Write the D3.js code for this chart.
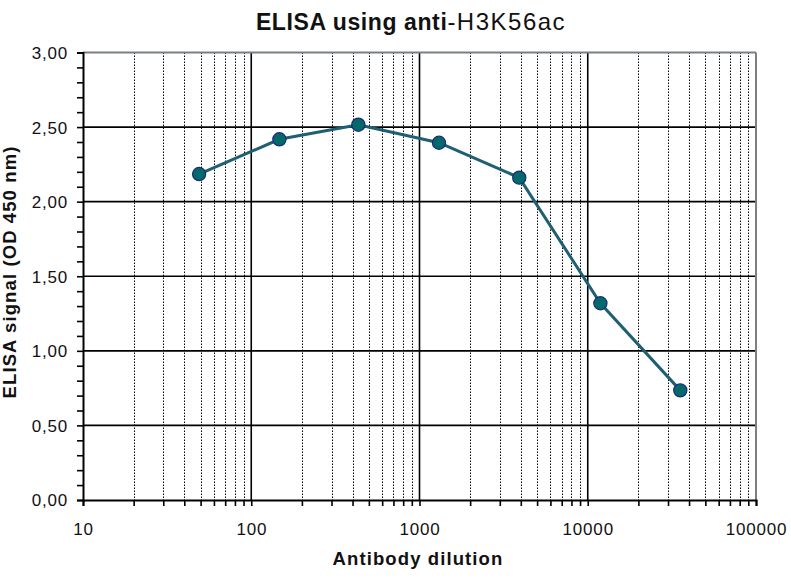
<!DOCTYPE html>
<html><head><meta charset="utf-8">
<script src="https://cdn.jsdelivr.net/npm/d3@7"></script>
<style>body{margin:0;background:#fff}svg{display:block}</style>
</head><body>
<svg id="c" width="791" height="587"></svg>
<script>
const dilutions = [49, 147, 433, 1306, 3917, 11890, 35480];
const signals = [2.185, 2.418, 2.516, 2.395, 2.161, 1.319, 0.735];
const xTickValues = [10, 100, 1000, 10000, 100000];
const yTickValues = [0, 0.5, 1, 1.5, 2, 2.5, 3];
const titleMain = "ELISA using anti";
const titleTarget = "-H3K56ac";
const xLabel = "Antibody dilution";
const yLabel = "ELISA signal (OD 450 nm)";

const svg = d3.select("#c");
const L = 83, R = 756, T = 52.5, B = 500;
const x = d3.scaleLog().domain([10, 100000]).range([L, R]);
const y = d3.scaleLinear().domain([0, 3]).range([B, T]);
const font = "Arial, 'Liberation Sans', sans-serif";

// minor vertical gridlines
const minors = [];
for (let d = 10; d < 100000; d *= 10) for (let k = 2; k <= 9; k++) minors.push(d * k);
svg.append("g").selectAll("line").data(minors).join("line")
  .attr("x1", d => Math.round(x(d)) + 0.5).attr("x2", d => Math.round(x(d)) + 0.5)
  .attr("y1", T).attr("y2", B)
  .attr("stroke", "#000").attr("stroke-width", 1).attr("stroke-dasharray", "1.5,1.5");
// major vertical gridlines
svg.append("g").selectAll("line").data(xTickValues.slice(1, -1)).join("line")
  .attr("x1", d => x(d)).attr("x2", d => x(d)).attr("y1", T).attr("y2", B)
  .attr("stroke", "#000").attr("stroke-width", 1.6);
// horizontal gridlines
svg.append("g").selectAll("line").data(yTickValues.slice(1, -1)).join("line")
  .attr("x1", L).attr("x2", R).attr("y1", d => y(d)).attr("y2", d => y(d))
  .attr("stroke", "#000").attr("stroke-width", 1.6);
// top/right border
svg.append("line").attr("x1", L).attr("x2", R).attr("y1", T).attr("y2", T).attr("stroke", "#7a8084").attr("stroke-width", 2);
svg.append("line").attr("x1", R).attr("x2", R).attr("y1", T).attr("y2", B).attr("stroke", "#7a8084").attr("stroke-width", 2);

// Y axis
const yMinor = d3.range(0, 31).map(i => i / 10);
const yAxis = d3.axisLeft(y).tickValues(yMinor).tickSize(6).tickPadding(9)
  .tickFormat(d => yTickValues.some(v => Math.abs(v - d) < 1e-9) ? d3.format(".2f")(d).replace(".", ",") : "");
const gy = svg.append("g").attr("transform", `translate(${L},0)`).call(yAxis);
gy.select(".domain").attr("stroke", "#000").attr("stroke-width", 2);
gy.selectAll(".tick line").attr("stroke", "#000").attr("stroke-width", 1.6);
gy.selectAll(".tick text").attr("font-family", font).attr("font-size", 17).attr("fill", "#111")
  .attr("letter-spacing", "0.8px").attr("dy", "0.35em");

// X axis
const xAll = minors.concat(xTickValues);
const xAxis = d3.axisBottom(x).tickValues(xAll).tickSize(6).tickPadding(17)
  .tickFormat(d => xTickValues.includes(d) ? String(d) : "");
const gx = svg.append("g").attr("transform", `translate(0,${B})`).call(xAxis);
gx.select(".domain").attr("stroke", "#000").attr("stroke-width", 2);
gx.selectAll(".tick line").attr("stroke", "#000").attr("stroke-width", 1.6);
gx.selectAll(".tick text").attr("font-family", font).attr("font-size", 17).attr("fill", "#111")
  .attr("letter-spacing", "0.8px");

// line and points
const line = d3.line().x(d => x(d[0])).y(d => y(d[1]));
const pts = dilutions.map((d, i) => [d, signals[i]]);
svg.append("path").datum(pts).attr("d", line).attr("fill", "none")
  .attr("stroke", "#1e5f74").attr("stroke-width", 3);
svg.append("g").selectAll("circle").data(pts).join("circle")
  .attr("cx", d => x(d[0])).attr("cy", d => y(d[1])).attr("r", 6.6)
  .attr("fill", "#04696b").attr("stroke", "#1c2a78").attr("stroke-width", 1.2);

// title
const t = svg.append("text").attr("x", 411).attr("y", 30).attr("text-anchor", "middle")
  .attr("font-family", font).attr("fill", "#111");
t.append("tspan").attr("font-size", 23).attr("font-weight", "bold").attr("letter-spacing", "0.6px").text(titleMain);
t.append("tspan").attr("font-size", 24).attr("font-weight", "normal").attr("letter-spacing", "1.5px").text(titleTarget);

// axis labels
svg.append("text").attr("x", 418).attr("y", 565).attr("text-anchor", "middle")
  .attr("font-family", font).attr("font-size", 18.5).attr("font-weight", "bold").attr("fill", "#111")
  .attr("letter-spacing", "1.1px").text(xLabel);
svg.append("text").attr("transform", "translate(10,272) rotate(-90)").attr("text-anchor", "middle")
  .attr("dy", "0.35em")
  .attr("font-family", font).attr("font-size", 18.5).attr("font-weight", "bold").attr("fill", "#111")
  .attr("letter-spacing", "1.1px").text(yLabel);
</script>
</body></html>
